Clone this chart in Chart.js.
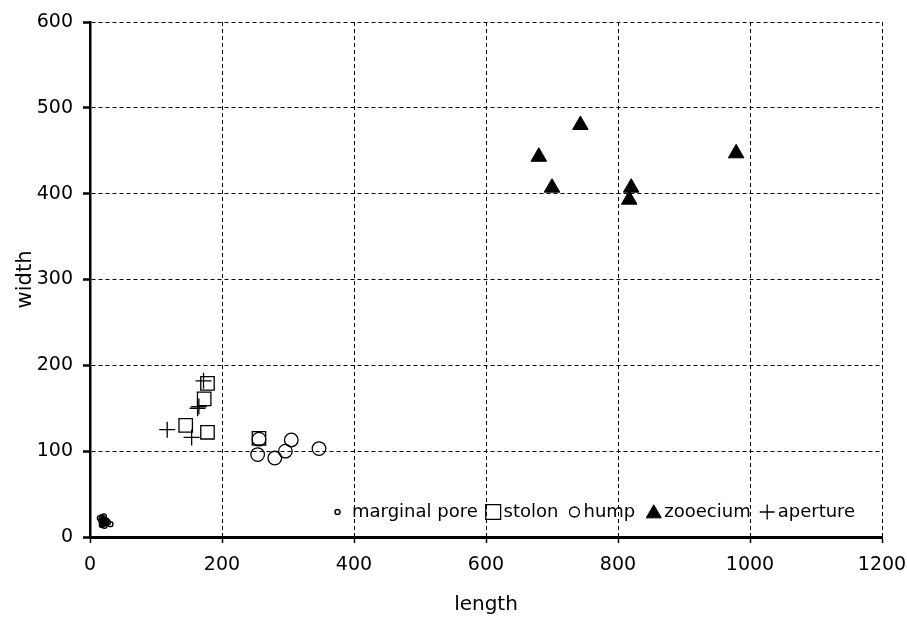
<!DOCTYPE html>
<html>
<head>
<meta charset="utf-8">
<title>length vs width</title>
<script src="https://cdn.jsdelivr.net/npm/chart.js@4.4.1/dist/chart.umd.min.js"></script>
<style>
  html, body { margin: 0; padding: 0; background: #fff; }
  #wrap { width: 907px; height: 620px; }
</style>
</head>
<body>
<div id="wrap"><canvas id="sizeChart" width="907" height="620"></canvas></div>
<script>
// Measurements (length, width) per structure
var poreLength = [15, 17, 18, 19, 20, 21, 22, 23, 25, 27, 31, 19, 21, 18, 22, 20];
var poreWidth  = [22, 19, 23, 17, 21, 18, 20, 16, 19, 17, 15, 15, 24, 14, 13, 19];

var stolonLength = [178, 173, 145, 178, 256];
var stolonWidth  = [179, 161, 130, 122, 115];

var humpLength = [256, 254, 280, 296, 305, 347];
var humpWidth  = [114, 96, 92, 100, 113, 103];

var zooeciumLength = [680, 743, 700, 820, 817, 979];
var zooeciumWidth  = [443, 480, 407, 407, 393, 447];

var apertureLength = [172, 163, 165, 117, 154];
var apertureWidth  = [182, 150, 152, 125, 116];

var xTicks = [0, 200, 400, 600, 800, 1000, 1200];
var yTicks = [0, 100, 200, 300, 400, 500, 600];

function toPoints(xs, ys) {
    return xs.map(function(x, i) { return { x: x, y: ys[i] }; });
}

var FONT = '"DejaVu Sans", sans-serif';
var CLEAR = 'rgba(0,0,0,0)';

// marker look on the plot and in the legend (gapBefore = space before symbol, gapAfter = before text)
var series = [
    { label: 'marginal pore', x: poreLength, y: poreWidth, style: 'circle', radius: 2.5, fill: CLEAR, lw: 1.4,
      legendRadius: 2.5, gapBefore: 0, gapAfter: 12 },
    { label: 'stolon', x: stolonLength, y: stolonWidth, style: 'rect', radius: 9.5, fill: CLEAR, lw: 1.3,
      legendRadius: 10.5, gapBefore: 8, gapAfter: 3 },
    { label: 'hump', x: humpLength, y: humpWidth, style: 'circle', radius: 6.8, fill: CLEAR, lw: 1.3,
      legendRadius: 5, gapBefore: 11, gapAfter: 4 },
    { label: 'zooecium', x: zooeciumLength, y: zooeciumWidth, style: 'triangle', radius: 9, fill: '#000', lw: 1,
      legendRadius: 8.7, gapBefore: 11, gapAfter: 3 },
    { label: 'aperture', x: apertureLength, y: apertureWidth, style: 'cross', radius: 8, fill: '#000', lw: 1.3,
      legendRadius: 7.5, gapBefore: 9, gapAfter: 3 }
];

var datasets = series.map(function(s) {
    return {
        label: s.label,
        data: toPoints(s.x, s.y),
        pointStyle: s.style,
        pointRadius: s.radius,
        pointHoverRadius: s.radius,
        pointBackgroundColor: s.fill,
        pointBorderColor: '#000',
        pointBorderWidth: s.lw,
        showLine: false
    };
});

// Legend drawn inside the plot, along the bottom
var innerLegend = {
    id: 'innerLegend',
    afterDraw: function(chart) {
        var ctx = chart.ctx;
        var y = chart.chartArea.bottom - 25;
        var x = 335;
        ctx.save();
        ctx.font = '18px ' + FONT;
        ctx.textBaseline = 'middle';
        series.forEach(function(s) {
            var r = s.legendRadius;
            var half = s.style === 'rect' ? r * Math.SQRT1_2 : (s.style === 'triangle' ? r * 0.866 : r);
            x += s.gapBefore;
            var cx = x + half;
            ctx.fillStyle = s.fill;
            ctx.strokeStyle = '#000';
            ctx.lineWidth = s.lw;
            Chart.helpers.drawPoint(ctx, {
                pointStyle: s.style,
                radius: r,
                borderWidth: s.lw,
                rotation: 0
            }, cx, y + (s.style === 'triangle' ? 1.5 : 0));
            var tx = cx + half + s.gapAfter;
            ctx.fillStyle = '#000';
            ctx.fillText(s.label, tx, y);
            x = tx + ctx.measureText(s.label).width;
        });
        ctx.restore();
    }
};

var gridDash = [4, 3];

function plainTick(value) { return String(value); }

new Chart(document.getElementById('sizeChart').getContext('2d'), {
    type: 'scatter',
    data: { datasets: datasets },
    options: {
        responsive: false,
        animation: false,
        layout: { padding: { top: 22, right: 25, left: 0, bottom: 0 } },
        plugins: {
            legend: { display: false },
            tooltip: { enabled: false }
        },
        scales: {
            x: {
                type: 'linear',
                min: 0,
                max: 1200,
                afterFit: function(scale) {
                    scale.height = 83;
                    // let the last label hang into the right margin
                    scale.paddingLeft = 0;
                    scale.paddingRight = 0;
                },
                afterBuildTicks: function(scale) {
                    scale.ticks = xTicks.map(function(v) { return { value: v }; });
                },
                grid: {
                    color: '#000',
                    lineWidth: 1,
                    tickLength: 6,
                    tickColor: '#000',
                    tickWidth: 1.5,
                    tickBorderDash: []
                },
                border: { display: true, color: '#000', width: 3, dash: gridDash },
                ticks: { color: '#000', padding: 11, callback: plainTick, font: { family: FONT, size: 19 } },
                title: {
                    display: true,
                    text: 'length',
                    color: '#000',
                    font: { family: FONT, size: 20 },
                    padding: { top: 0, bottom: 3 }
                }
            },
            y: {
                type: 'linear',
                min: 0,
                max: 600,
                afterFit: function(scale) { scale.width = 90; },
                afterBuildTicks: function(scale) {
                    scale.ticks = yTicks.map(function(v) { return { value: v }; });
                },
                grid: {
                    color: '#000',
                    lineWidth: 1,
                    tickLength: 7,
                    tickColor: '#000',
                    tickWidth: 2.5,
                    tickBorderDash: []
                },
                border: { display: true, color: '#000', width: 2.5, dash: gridDash },
                ticks: { color: '#000', padding: 10, callback: plainTick, font: { family: FONT, size: 19 } },
                title: {
                    display: true,
                    text: 'width',
                    color: '#000',
                    font: { family: FONT, size: 21 },
                    padding: { top: 13, bottom: 0 }
                }
            }
        }
    },
    plugins: [innerLegend]
});
</script>
</body>
</html>
